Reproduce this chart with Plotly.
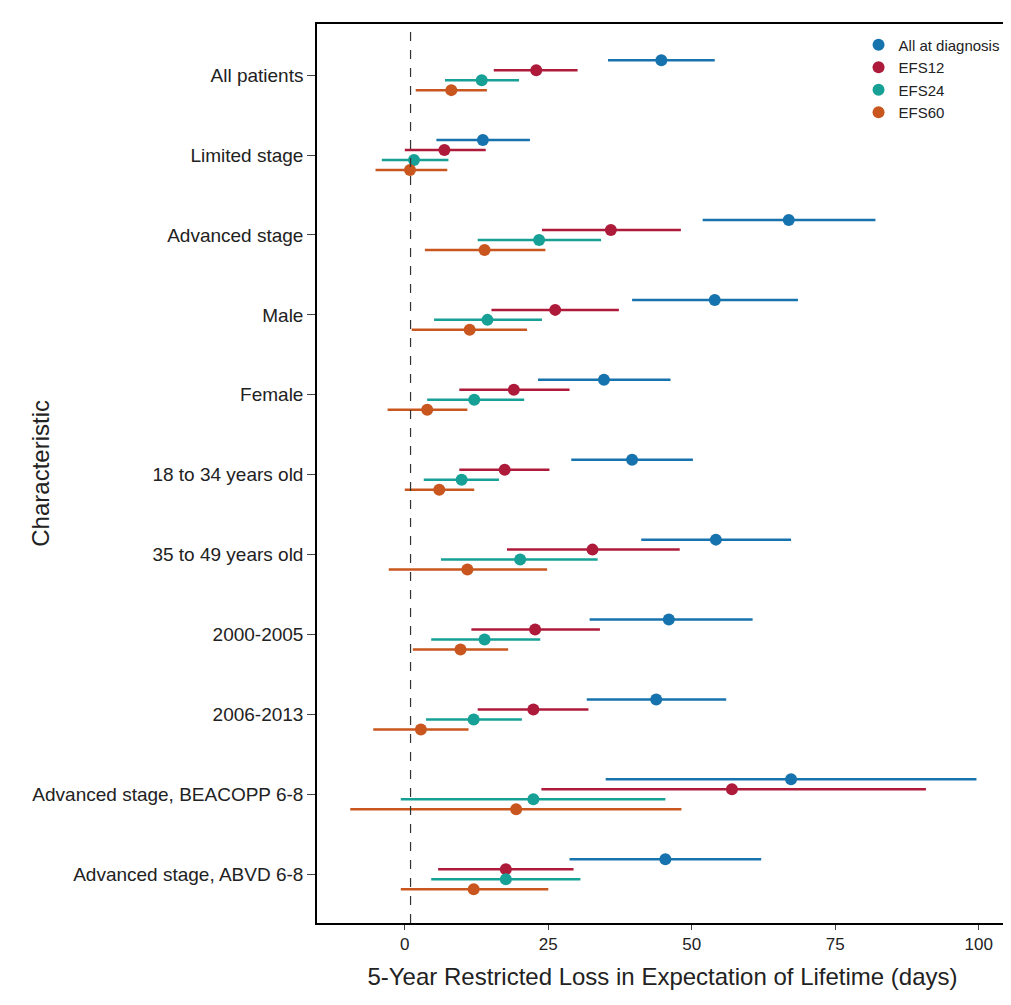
import plotly.graph_objects as go

CATEGORIES = ['All patients', 'Limited stage', 'Advanced stage', 'Male', 'Female',
              '18 to 34 years old', '35 to 49 years old', '2000-2005', '2006-2013',
              'Advanced stage, BEACOPP 6-8', 'Advanced stage, ABVD 6-8']
SERIES = ['All at diagnosis', 'EFS12', 'EFS24', 'EFS60']
COLOURS = ['#1773ad', '#ad1a3a', '#17a095', '#c9561e']

EST = {
    'All at diagnosis': [44.7, 13.6, 66.9, 54.0, 34.7, 39.6, 54.2, 46.0, 43.8, 67.3, 45.4],
    'EFS12': [22.9, 6.9, 35.9, 26.2, 19.0, 17.4, 32.7, 22.7, 22.4, 57.0, 17.6],
    'EFS24': [13.4, 1.6, 23.4, 14.4, 12.1, 9.9, 20.1, 13.9, 12.0, 22.4, 17.6],
    'EFS60': [8.1, 0.9, 13.9, 11.3, 3.9, 6.0, 10.9, 9.7, 2.8, 19.4, 12.0],
}
LOW = {
    'All at diagnosis': [35.4, 5.5, 51.9, 39.6, 23.2, 29.0, 41.2, 32.2, 31.7, 35.0, 28.7],
    'EFS12': [15.5, 0.0, 23.9, 15.1, 9.5, 9.5, 17.8, 11.6, 12.7, 23.8, 5.8],
    'EFS24': [7.0, -4.0, 12.7, 5.1, 3.9, 3.3, 6.3, 4.6, 3.7, -0.7, 4.6],
    'EFS60': [1.9, -5.1, 3.5, 1.2, -3.0, 0.0, -2.8, 1.4, -5.5, -9.5, -0.7],
}
HIGH = {
    'All at diagnosis': [54.0, 21.8, 82.0, 68.5, 46.3, 50.2, 67.3, 60.6, 56.0, 99.6, 62.1],
    'EFS12': [30.1, 14.1, 48.1, 37.3, 28.7, 25.2, 47.9, 34.0, 32.0, 90.8, 29.4],
    'EFS24': [19.9, 7.6, 34.2, 23.9, 20.8, 16.4, 33.6, 23.6, 20.4, 45.4, 30.6],
    'EFS60': [14.3, 7.4, 24.5, 21.3, 10.9, 12.1, 24.8, 18.0, 11.1, 48.2, 25.0],
}
REF_LINE = 1.0

OFFSETS = [-0.1875, -0.0625, 0.0625, 0.1875]

fig = go.Figure()
for name, colour, off in zip(SERIES, COLOURS, OFFSETS):
    ys = [i + off for i in range(len(CATEGORIES))]
    est = EST[name]
    fig.add_trace(go.Scatter(
        x=est, y=ys, mode='markers', name=name,
        marker=dict(color=colour, size=12),
        error_x=dict(type='data', symmetric=False,
                     array=[h - e for h, e in zip(HIGH[name], est)],
                     arrayminus=[e - l for e, l in zip(est, LOW[name])],
                     color=colour, thickness=2.5, width=0),
    ))

fig.add_vline(x=REF_LINE, line=dict(color='#333333', width=1.2, dash='dash'))

# y title as annotation so the left margin stays fixed
fig.add_annotation(text='Characteristic', xref='paper', yref='paper',
                   x=-0.423, y=0.5, textangle=-90, showarrow=False,
                   font=dict(size=24))

fig.update_layout(
    width=1011, height=1005,
    margin=dict(l=309, r=11, t=16, b=90),
    paper_bgcolor='white', plot_bgcolor='white',
    font=dict(family='Liberation Sans, Arial', color='#222222', size=19),
    legend=dict(x=0.995, y=0.995, xanchor='right', yanchor='top',
                bgcolor='rgba(0,0,0,0)', font=dict(size=15)),
)
fig.update_xaxes(range=[-15.3, 105.1], tickvals=[0, 25, 50, 75, 100],
                 ticks='outside', ticklen=5, showgrid=False, zeroline=False,
                 showline=True, linecolor='black', linewidth=1.5, mirror=True,
                 tickfont=dict(size=17),
                 title=dict(text='5-Year Restricted Loss in Expectation of Lifetime (days)',
                            font=dict(size=24)))
fig.update_yaxes(range=[len(CATEGORIES) - 1 + 0.61, -0.64],
                 tickvals=list(range(len(CATEGORIES))), ticktext=CATEGORIES,
                 ticks='outside', ticklen=8, showgrid=False, zeroline=False,
                 showline=True, linecolor='black', linewidth=1.5, mirror=True,
                 automargin=False)

fig.write_html("out.html")
